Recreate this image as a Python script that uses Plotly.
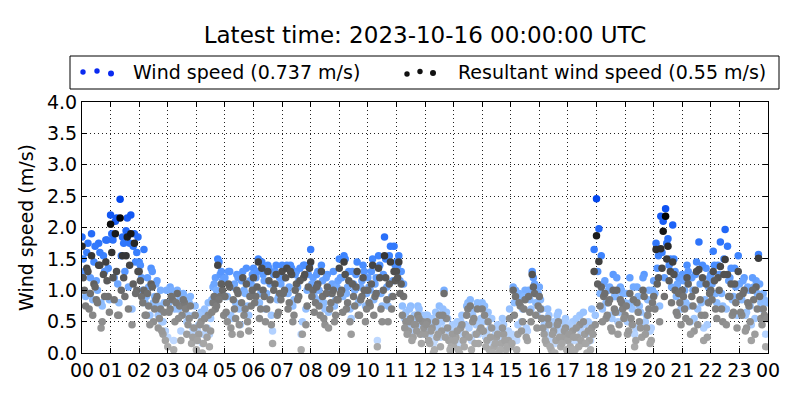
import plotly.graph_objects as go

# sample minutes within each hour: set A on 5-minute marks, set B in between
minutes_a = [0, 5, 10, 15, 20, 25, 30, 35, 40, 45, 50, 55]
minutes_b = [2.5, 7.5, 12.5, 17.5, 22.5, 27.5, 32.5, 37.5, 42.5, 47.5, 52.5, 57.5]
hour_labels = ["00", "01", "02", "03", "04", "05", "06", "07", "08", "09", "10", "11",
               "12", "13", "14", "15", "16", "17", "18", "19", "20", "21", "22", "23", "00"]

# wind speed (m/s), set A, 12 samples per hour, hours 00..23
wind_speed_a = [
    1.85, 1.3, 1.6, 0.95, 1.9, 1.45, 1.15, 1.75, 0.8, 1.55, 1.8, 1.35,      # 00
    2.2, 1.8, 2.1, 1.1, 2.45, 1.85, 1.3, 2.15, 1.75, 0.7, 1.9, 1.6,         # 01
    1.45, 1.2, 1.65, 0.9, 1.05, 1.35, 0.8, 1.1, 0.6, 1.0, 0.5, 0.35,        # 02
    0.25, 1.05, 0.95, 0.7, 1.0, 0.85, 0.75, 0.9, 0.5, 0.8, 0.3, 0.6,        # 03
    0.2, 0.45, 0.65, 0.3, 0.6, 0.8, 0.55, 1.05, 1.2, 1.5, 1.25, 1.15,       # 04
    1.2, 0.9, 1.3, 0.55, 1.1, 1.25, 0.7, 1.15, 1.0, 1.35, 0.6, 1.1,         # 05
    1.35, 1.2, 1.5, 0.95, 1.25, 0.7, 1.4, 1.1, 0.35, 1.3, 0.85, 1.2,        # 06
    1.4, 1.2, 1.4, 1.05, 1.35, 0.85, 1.3, 1.15, 0.3, 1.4, 0.7, 1.25,        # 07
    1.65, 1.2, 1.0, 1.3, 0.85, 1.15, 0.7, 1.25, 0.95, 1.1, 0.75, 1.05,      # 08
    1.5, 1.2, 1.55, 0.95, 1.3, 0.55, 1.1, 1.25, 0.8, 1.05, 1.4, 0.75,       # 09
    1.2, 1.0, 1.5, 1.1, 0.2, 1.4, 0.75, 1.85, 1.05, 1.55, 0.9, 1.7,         # 10
    1.45, 1.55, 1.3, 1.1, 0.65, 0.5, 0.75, 0.4, 0.6, 0.75, 0.45, 0.6,       # 11
    0.45, 0.6, 0.3, 0.55, 0.2, 0.4, 0.75, 0.5, 1.0, 0.65, 0.35, 0.25,       # 12
    0.25, 0.4, 0.15, 0.5, 0.3, 0.45, 0.8, 0.85, 0.6, 0.3, 0.8, 0.5,         # 13
    0.8, 0.75, 0.35, 0.2, 0.55, 0.25, 0.4, 0.1, 0.3, 0.45, 0.15, 0.35,      # 14
    0.25, 1.05, 1.0, 0.45, 0.9, 0.7, 1.0, 0.35, 0.85, 1.3, 1.1, 0.6,        # 15
    1.05, 0.7, 0.45, 0.3, 0.6, 0.2, 0.5, 0.35, 0.65, 0.25, 0.4, 0.55,       # 16
    0.35, 0.25, 0.5, 0.2, 0.4, 0.6, 0.3, 0.45, 0.15, 0.35, 0.7, 1.65,       # 17
    2.46, 1.98, 1.55, 1.1, 0.8, 1.0, 0.6, 1.25, 0.9, 0.5, 1.05, 0.95,       # 18
    0.8, 0.5, 1.2, 0.7, 0.3, 1.05, 0.75, 0.45, 1.25, 0.6, 1.0, 0.4,         # 19
    1.15, 1.75, 1.55, 2.18, 2.1, 2.3, 1.82, 1.5, 2.04, 1.3, 1.1, 1.0,       # 20
    1.25, 1.0, 1.4, 0.75, 1.2, 0.55, 1.45, 1.77, 0.8, 0.4, 1.35, 1.05,      # 21
    1.25, 1.62, 0.95, 1.4, 1.77, 0.75, 1.97, 1.7, 1.2, 0.85, 1.35, 0.6,     # 22
    1.1, 0.85, 1.2, 0.65, 1.0, 0.45, 1.05, 1.15, 1.57, 0.8, 0.95, 0.3,      # 23
]

# wind speed (m/s), set B
wind_speed_b = [
    1.5, 0.9, 1.75, 1.2, 0.85, 1.7, 1.0, 1.6, 0.75, 1.3, 1.8, 0.85,         # 00
    1.9, 1.2, 2.15, 0.8, 1.55, 1.75, 1.95, 1.05, 2.2, 1.7, 1.45, 1.85,      # 01
    1.4, 1.0, 0.8, 1.2, 0.6, 1.3, 0.9, 1.15, 0.75, 0.5, 0.8, 1.0,           # 02
    0.8, 1.0, 0.2, 0.95, 0.7, 0.35, 0.95, 0.85, 0.6, 0.9, 0.4, 0.75,        # 03
    0.35, 0.6, 0.15, 0.7, 0.4, 0.3, 0.85, 1.1, 1.0, 1.45, 1.3, 0.9,         # 04
    0.9, 1.3, 0.6, 1.05, 0.8, 1.2, 0.45, 1.3, 0.95, 0.75, 1.15, 1.25,       # 05
    1.05, 1.3, 0.8, 1.45, 1.15, 0.95, 1.35, 0.6, 1.25, 1.4, 0.9, 1.1,       # 06
    1.2, 1.35, 0.95, 1.4, 0.75, 1.25, 1.05, 1.35, 0.5, 1.4, 1.0, 1.4,       # 07
    1.1, 0.9, 1.25, 1.0, 1.4, 0.8, 1.2, 0.65, 1.0, 1.3, 0.85, 1.15,         # 08
    1.2, 0.9, 1.5, 1.05, 0.7, 1.3, 1.0, 1.45, 0.85, 1.15, 1.3, 0.95,        # 09
    1.05, 1.3, 0.85, 1.2, 1.55, 0.95, 1.25, 1.5, 0.75, 1.7, 1.15, 1.4,      # 10
    1.4, 1.15, 0.75, 0.55, 0.45, 0.7, 0.35, 0.6, 0.5, 0.7, 0.3, 0.55,       # 11
    0.6, 0.35, 0.5, 0.15, 0.65, 0.45, 0.25, 0.7, 0.4, 0.55, 0.2, 0.45,      # 12
    0.35, 0.5, 0.15, 0.6, 0.25, 0.75, 0.4, 0.2, 0.7, 0.45, 0.3, 0.55,       # 13
    0.5, 0.25, 0.65, 0.4, 0.15, 0.3, 0.45, 0.2, 0.55, 0.35, 0.25, 0.7,      # 14
    0.3, 0.8, 0.2, 0.95, 0.5, 0.9, 0.4, 1.0, 0.7, 1.2, 0.8, 0.95,           # 15
    0.85, 0.55, 0.35, 0.7, 0.25, 0.45, 0.15, 0.6, 0.4, 0.3, 0.5, 0.2,       # 16
    0.45, 0.2, 0.4, 0.55, 0.25, 0.35, 0.65, 0.3, 0.5, 0.2, 0.45, 0.6,       # 17
    1.3, 0.95, 0.7, 1.15, 0.8, 1.05, 0.55, 0.9, 1.2, 0.65, 1.0, 0.75,       # 18
    0.95, 0.55, 0.8, 1.05, 0.4, 0.9, 0.65, 1.2, 0.5, 0.85, 0.35, 1.0,       # 19
    0.95, 1.35, 0.75, 1.6, 1.2, 1.75, 1.4, 1.05, 1.5, 0.9, 1.2, 0.7,        # 20
    1.15, 0.8, 1.3, 0.5, 1.0, 1.25, 0.7, 1.1, 1.4, 0.85, 0.45, 1.2,         # 21
    1.1, 1.4, 0.8, 1.25, 0.95, 1.5, 0.7, 1.15, 1.35, 0.9, 1.05, 1.55,       # 22
    0.9, 1.15, 0.6, 1.05, 0.75, 1.2, 0.55, 0.95, 1.1, 0.7, 0.85, 0.8,       # 23
]

# resultant wind speed (m/s), set A
resultant_a = [
    1.7, 1.0, 1.35, 0.7, 1.55, 1.1, 0.85, 1.4, 0.4, 1.25, 1.45, 0.9,        # 00
    2.05, 1.2, 1.9, 0.6, 2.15, 1.55, 0.9, 1.85, 1.4, 0.45, 1.75, 1.0,       # 01
    1.3, 0.9, 1.0, 0.6, 0.75, 1.1, 0.5, 0.85, 0.4, 0.7, 0.3, 0.2,           # 02
    0.1, 0.7, 0.85, 0.5, 0.95, 0.75, 0.6, 0.8, 0.3, 0.55, 0.15, 0.4,        # 03
    0.05, 0.3, 0.5, 0.15, 0.4, 0.6, 0.35, 0.8, 0.7, 1.4, 0.9, 1.0,          # 04
    0.9, 0.5, 1.05, 0.3, 0.7, 1.0, 0.45, 0.8, 0.6, 1.1, 0.35, 0.75,         # 05
    1.2, 0.9, 1.45, 0.7, 1.0, 0.5, 1.3, 0.85, 0.15, 1.1, 0.6, 0.95,         # 06
    1.3, 1.0, 1.35, 0.8, 1.25, 0.6, 1.1, 0.9, 0.05, 1.2, 0.45, 1.05,        # 07
    1.45, 1.0, 0.8, 1.1, 0.6, 0.9, 0.45, 1.05, 0.7, 0.95, 0.5, 0.85,        # 08
    1.35, 1.0, 1.45, 0.7, 1.15, 0.3, 0.9, 1.05, 0.6, 0.85, 1.2, 0.5,        # 09
    1.0, 0.75, 1.4, 0.9, 0.1, 1.2, 0.5, 1.55, 0.85, 1.1, 0.7, 1.3,          # 10
    1.3, 1.45, 1.1, 0.9, 0.5, 0.35, 0.55, 0.25, 0.45, 0.6, 0.3, 0.5,        # 11
    0.3, 0.5, 0.15, 0.4, 0.05, 0.25, 0.6, 0.35, 0.95, 0.55, 0.2, 0.1,       # 12
    0.1, 0.25, 0.05, 0.4, 0.2, 0.3, 0.7, 0.75, 0.5, 0.15, 0.7, 0.35,        # 13
    0.7, 0.6, 0.2, 0.05, 0.4, 0.1, 0.25, 0.0, 0.15, 0.3, 0.05, 0.2,         # 14
    0.1, 1.0, 0.9, 0.3, 0.75, 0.5, 0.85, 0.2, 0.65, 1.25, 0.95, 0.4,        # 15
    0.9, 0.55, 0.3, 0.15, 0.45, 0.05, 0.35, 0.2, 0.5, 0.1, 0.25, 0.4,       # 16
    0.2, 0.1, 0.35, 0.05, 0.25, 0.45, 0.15, 0.3, 0.0, 0.2, 0.4, 1.3,        # 17
    1.87, 1.46, 1.05, 0.9, 0.55, 0.8, 0.4, 1.0, 0.65, 0.3, 0.85, 0.7,       # 18
    0.6, 0.3, 0.95, 0.45, 0.1, 0.8, 0.5, 0.25, 0.9, 0.4, 0.7, 0.2,          # 19
    0.9, 1.65, 1.2, 1.66, 1.94, 2.18, 1.7, 1.3, 1.45, 1.0, 0.6, 0.8,        # 20
    1.0, 0.7, 1.2, 0.5, 0.9, 0.35, 1.3, 1.33, 0.6, 0.2, 1.1, 0.8,           # 21
    1.0, 1.3, 0.7, 1.2, 1.38, 0.5, 1.49, 1.25, 0.9, 0.6, 1.1, 0.4,          # 22
    0.9, 0.6, 1.0, 0.4, 0.75, 0.2, 0.85, 1.05, 1.51, 0.55, 0.7, 0.1,        # 23
]

# resultant wind speed (m/s), set B
resultant_b = [
    1.2, 0.75, 1.3, 0.95, 0.6, 1.05, 0.8, 1.4, 0.5, 0.9, 1.15, 0.65,        # 00
    1.6, 0.85, 1.3, 0.6, 1.0, 1.2, 1.55, 0.7, 1.9, 1.1, 0.95, 1.3,          # 01
    1.15, 0.8, 0.6, 0.95, 0.45, 1.05, 0.7, 0.9, 0.55, 0.35, 0.65, 0.8,      # 02
    0.65, 0.9, 0.05, 0.8, 0.55, 0.2, 0.85, 0.7, 0.45, 0.75, 0.25, 0.6,      # 03
    0.2, 0.45, 0.0, 0.55, 0.25, 0.1, 0.65, 0.9, 0.75, 0.85, 1.1, 0.6,       # 04
    0.65, 1.1, 0.4, 0.85, 0.55, 0.95, 0.3, 1.2, 0.7, 0.5, 0.9, 1.0,         # 05
    0.8, 1.05, 0.55, 1.35, 0.9, 0.7, 1.15, 0.45, 1.0, 1.25, 0.65, 0.85,     # 06
    0.95, 1.2, 0.7, 1.3, 0.5, 1.0, 0.85, 1.15, 0.3, 1.25, 0.75, 1.35,       # 07
    0.9, 0.65, 1.05, 0.75, 1.3, 0.55, 0.95, 0.4, 0.8, 1.0, 0.6, 0.85,       # 08
    0.95, 0.65, 1.25, 0.8, 0.5, 1.1, 0.75, 1.3, 0.6, 0.9, 1.0, 0.7,         # 09
    0.8, 1.1, 0.6, 0.95, 1.35, 0.7, 1.0, 1.2, 0.5, 1.45, 0.9, 1.15,         # 10
    1.2, 0.95, 0.6, 0.4, 0.3, 0.5, 0.2, 0.45, 0.35, 0.55, 0.15, 0.4,        # 11
    0.45, 0.2, 0.35, 0.0, 0.5, 0.3, 0.1, 0.6, 0.25, 0.4, 0.05, 0.3,         # 12
    0.2, 0.35, 0.0, 0.45, 0.1, 0.6, 0.25, 0.05, 0.55, 0.3, 0.15, 0.4,       # 13
    0.35, 0.1, 0.5, 0.25, 0.0, 0.15, 0.3, 0.05, 0.4, 0.2, 0.1, 0.55,        # 14
    0.15, 0.6, 0.05, 0.8, 0.35, 0.7, 0.25, 0.9, 0.5, 1.05, 0.6, 0.75,       # 15
    0.7, 0.4, 0.2, 0.55, 0.1, 0.3, 0.0, 0.45, 0.25, 0.15, 0.35, 0.05,       # 16
    0.3, 0.05, 0.25, 0.4, 0.1, 0.2, 0.5, 0.15, 0.35, 0.05, 0.3, 0.45,       # 17
    1.1, 0.75, 0.5, 0.95, 0.6, 0.85, 0.35, 0.7, 1.0, 0.45, 0.8, 0.55,       # 18
    0.75, 0.35, 0.55, 0.85, 0.2, 0.65, 0.4, 1.0, 0.3, 0.6, 0.15, 0.8,       # 19
    0.7, 1.1, 0.5, 1.35, 0.9, 1.5, 1.15, 0.8, 1.25, 0.65, 0.95, 0.45,       # 20
    0.9, 0.55, 1.1, 0.3, 0.75, 1.0, 0.45, 0.85, 1.2, 0.6, 0.25, 0.95,       # 21
    0.85, 1.15, 0.55, 1.0, 0.7, 1.25, 0.45, 0.9, 1.1, 0.65, 0.8, 1.3,       # 22
    0.65, 0.95, 0.35, 0.8, 0.5, 1.0, 0.3, 0.7, 0.9, 0.45, 0.6, 0.55,        # 23
]

title_text = "Latest time: 2023-10-16 00:00:00 UTC"
legend_ws = "Wind speed (0.737 m/s)"
legend_rs = "Resultant wind speed (0.55 m/s)"

times_a = [h + m / 60.0 for h in range(24) for m in minutes_a]
times_b = [h + m / 60.0 for h in range(24) for m in minutes_b]
times = times_a + times_b
wind_speed = wind_speed_a + wind_speed_b
resultant = resultant_a + resultant_b

FONT = "DejaVu Sans"
MS = 7.5
fig = go.Figure()
fig.add_trace(go.Scatter(
    x=times, y=wind_speed, mode="markers", name=legend_ws, showlegend=False,
    marker=dict(size=MS, color=wind_speed, cmin=0, cmax=2.5,
                colorscale=[[0, "#cfe2ff"], [0.35, "#86b8ff"], [0.6, "#3f86ff"], [1, "#0044ee"]],
                line=dict(width=0)),
))
fig.add_trace(go.Scatter(
    x=times, y=resultant, mode="markers", name=legend_rs, showlegend=False,
    marker=dict(size=MS, color=resultant, cmin=0, cmax=2.2,
                colorscale=[[0, "#b0b0b0"], [0.4, "#747474"], [0.7, "#383838"], [1, "#000000"]],
                line=dict(width=0)),
))

# the page puts the figure 8 px in from the top-left corner of the window
OX, OY = 8, 8
W, H = 800 - OX, 400 - OY
L, R, T, B = 82 - OX, 32, 102 - OY, 47
pw, ph = W - L - R, H - T - B

def px_x(px):  # window pixel -> paper x
    return (px - 82) / pw

def px_y(py):  # window pixel -> paper y
    return (353 - py) / ph

shapes = [dict(type="rect", xref="paper", yref="paper",
               x0=px_x(70), x1=px_x(779), y0=px_y(89), y1=px_y(56),
               line=dict(color="black", width=1), fillcolor="white", layer="above")]
for cx, cy, r, col in [(83, 72, 2.7, "#0a2af0"), (97, 71, 2.7, "#0a2af0"), (111, 73.5, 3, "#0a2af0"),
                       (407, 74, 2.7, "#111111"), (420, 71.5, 2.7, "#111111"), (433, 73, 3, "#111111")]:
    shapes.append(dict(type="circle", xref="paper", yref="paper",
                       xsizemode="pixel", ysizemode="pixel",
                       xanchor=px_x(cx), yanchor=px_y(cy),
                       x0=-r, x1=r, y0=-r, y1=r,
                       fillcolor=col, line=dict(width=0), layer="above"))

annotations = [
    dict(text=legend_ws, xref="paper", yref="paper", x=px_x(131), y=px_y(72),
         xanchor="left", yanchor="middle", showarrow=False,
         font=dict(family=FONT, size=19, color="black")),
    dict(text=legend_rs, xref="paper", yref="paper", x=px_x(456), y=px_y(72),
         xanchor="left", yanchor="middle", showarrow=False,
         font=dict(family=FONT, size=19, color="black")),
]

fig.update_layout(
    width=W, height=H,
    margin=dict(l=L, r=R, t=T, b=B, pad=0),
    paper_bgcolor="white", plot_bgcolor="white",
    font=dict(family=FONT, size=19, color="black"),
    title=dict(text=title_text, x=0.5, xref="paper", y=1 - (35 - OY) / H, yref="container",
               xanchor="center", yanchor="middle",
               font=dict(family=FONT, size=23, color="black")),
    shapes=shapes, annotations=annotations,
    showlegend=False,
)
fig.update_xaxes(
    range=[0, 24], tickmode="array", tickvals=list(range(25)), ticktext=hour_labels,
    ticks="inside", ticklen=5, tickcolor="black", mirror="allticks",
    showline=True, linecolor="black", linewidth=1,
    showgrid=True, gridcolor="#222222", gridwidth=1, griddash="1px,3px",
    zeroline=False, tickfont=dict(family=FONT, size=19),
)
fig.update_yaxes(
    range=[0, 4], tickmode="array", tickvals=[0, 0.5, 1, 1.5, 2, 2.5, 3, 3.5, 4],
    ticktext=["0.0", "0.5", "1.0", "1.5", "2.0", "2.5", "3.0", "3.5", "4.0"],
    ticks="inside", ticklen=5, tickcolor="black", mirror="allticks",
    showline=True, linecolor="black", linewidth=1,
    showgrid=True, gridcolor="#222222", gridwidth=1, griddash="1px,3px",
    zeroline=False, tickfont=dict(family=FONT, size=19),
    title=dict(text="Wind speed (m/s)", font=dict(family=FONT, size=19), standoff=8),
)
fig.write_html("out.html")
